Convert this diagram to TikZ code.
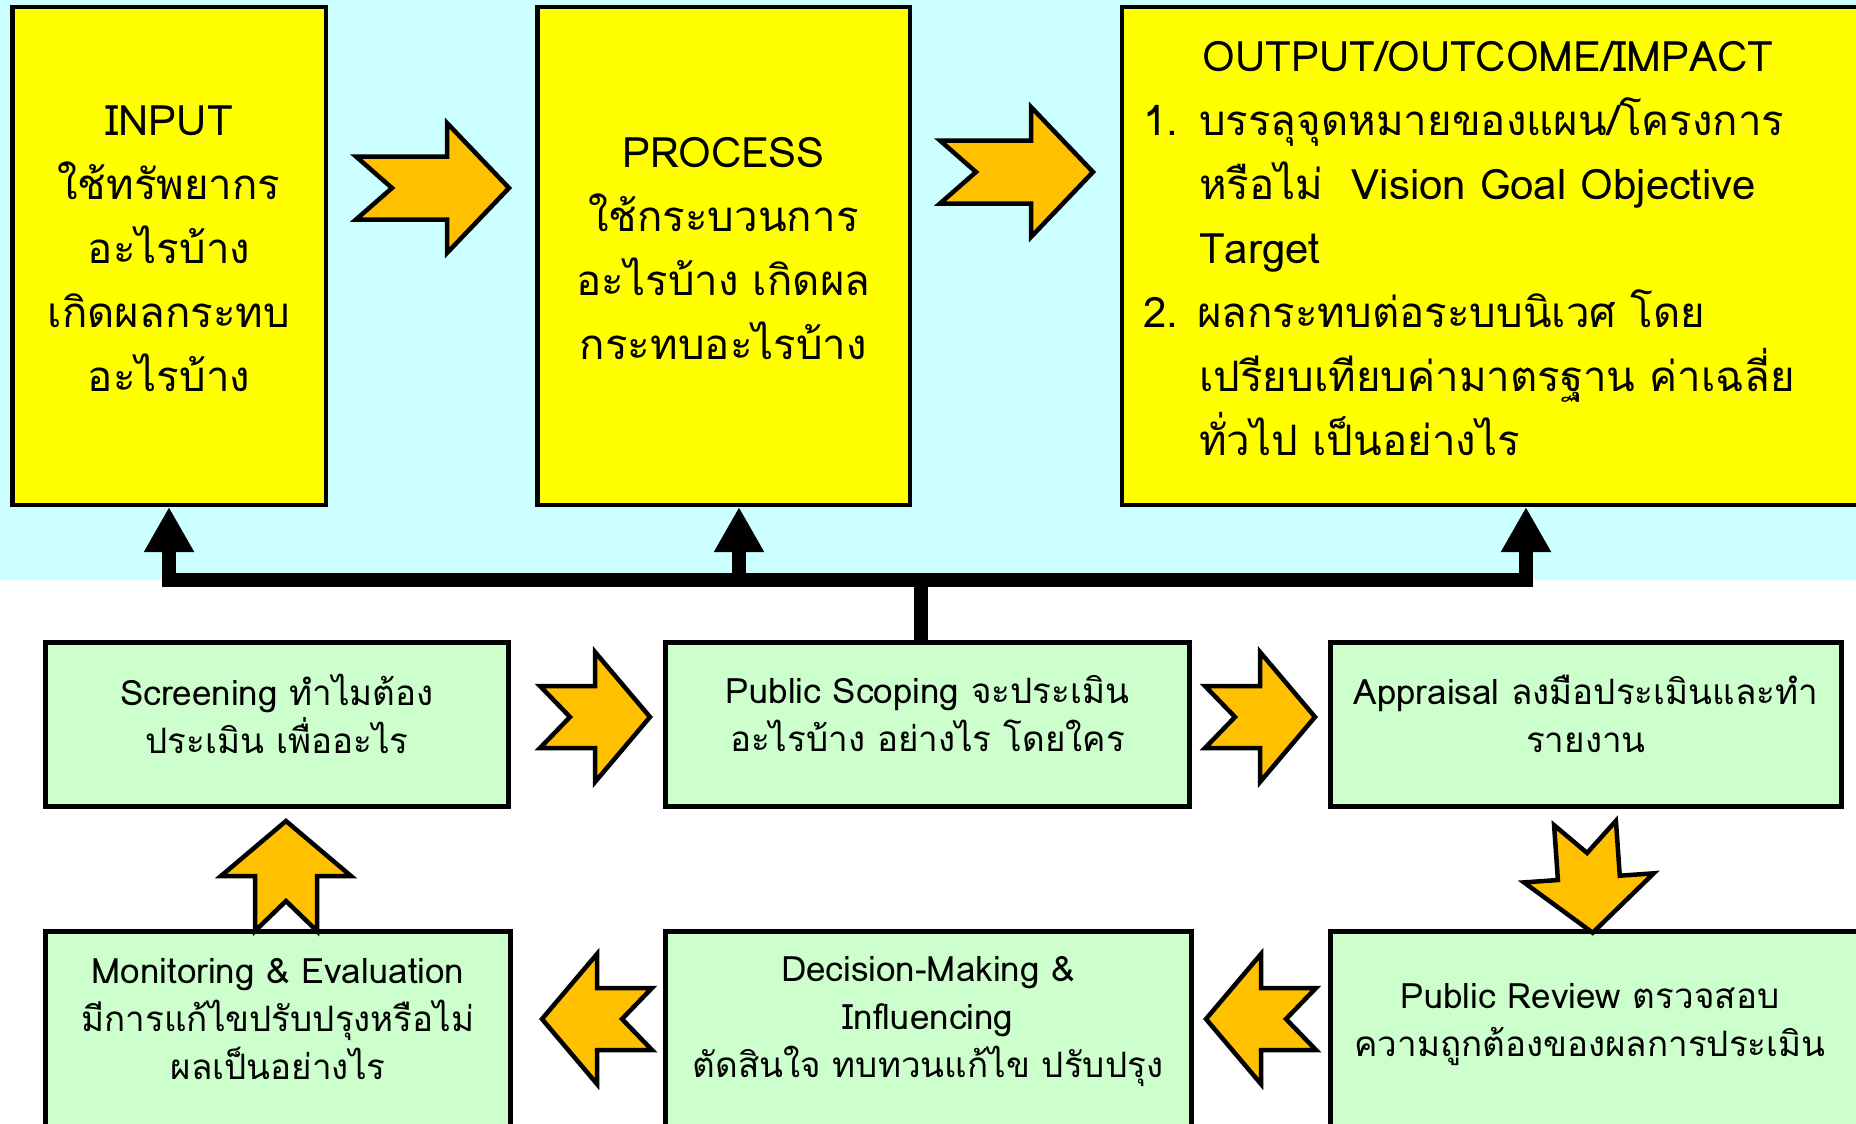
\documentclass[tikz,border=0pt]{standalone}
\usepackage{fontspec}
\setmainfont[Script=Thai]{Loma}
\usetikzlibrary{arrows.meta}
\definecolor{skybg}{HTML}{CCFFFF}
\definecolor{boxyellow}{HTML}{FFFF00}
\definecolor{boxgreen}{HTML}{CCFFCC}
\definecolor{arroworange}{HTML}{FFC000}
\tikzset{
  topbox/.style={rectangle, draw, fill=boxyellow, line width=4.5pt},
  toptext/.style={align=center, font=\fontsize{42}{64}\selectfont},
  stepbox/.style={rectangle, draw, fill=boxgreen, line width=5pt},
  steptext/.style={align=center, font=\fontsize{35}{48}\selectfont},
  bus/.style={line width=14pt, -{Triangle[width=47pt,length=45pt]}},
  blockarrow/.style={draw, fill=arroworange, line width=4.5pt, line join=miter},
  pics/bigarrow/.style={code={\draw[blockarrow] (0,-31.5) -- (91,-31.5) -- (91,-65) -- (153,0) -- (91,65) -- (91,31.5) -- (0,31.5) -- (36,0) -- cycle;}},
  pics/smallarrow/.style={code={\draw[blockarrow] (0,-31) -- (55,-31) -- (55,-65) -- (110,0) -- (55,65) -- (55,31) -- (0,31) -- (30,0) -- cycle;}},
}
\begin{document}
\begin{tikzpicture}[x=1pt,y=-1pt]
  \useasboundingbox (0,0) rectangle (1856,1124);
  \fill[white] (0,0) rectangle (1856,1124);
  \fill[skybg] (0,0) rectangle (1856,580);

  % top row
  \draw (169,256) node[topbox, minimum width=313.5pt, minimum height=497.5pt] (input) {};
  \draw (723.5,256) node[topbox, minimum width=372.5pt, minimum height=497.5pt] (process) {};
  \draw (1492,256) node[topbox, minimum width=739.75pt, minimum height=497.5pt] (output) {};
  \draw (169,249) node[toptext] (inputtext) {INPUT\\ใช้ทรัพยากร\\อะไรบ้าง\\เกิดผลกระทบ\\อะไรบ้าง};
  \draw (723.5,249) node[toptext] (processtext) {PROCESS\\ใช้กระบวนการ\\อะไรบ้าง เกิดผล\\กระทบอะไรบ้าง};
  \draw (1488,57) node[toptext] (outtitle) {OUTPUT/OUTCOME/IMPACT};
  \draw (1143,97) node[toptext, anchor=north west, align=left, inner sep=0pt] (outlist)
    {\makebox[56pt][l]{1.}บรรลุจุดหมายของแผน/โครงการ\\
     \hspace*{56pt}หรือไม่~~Vision Goal Objective\\
     \hspace*{56pt}Target\\
     2. ผลกระทบต่อระบบนิเวศ โดย\\
     \hspace*{56pt}เปรียบเทียบค่ามาตรฐาน ค่าเฉลี่ย\\
     \hspace*{56pt}ทั่วไป เป็นอย่างไร};

  \pic at (356,188) {bigarrow};
  \pic at (940,172) {bigarrow};

  % bottom cycle
  \draw (277,724.5) node[stepbox, minimum width=463pt, minimum height=164pt] (screening) {};
  \draw (927.5,724.5) node[stepbox, minimum width=524pt, minimum height=164pt] (scoping) {};
  \draw (1586,724.5) node[stepbox, minimum width=511pt, minimum height=164pt] (appraisal) {};
  \draw (278,1045.75) node[stepbox, minimum width=465pt, minimum height=228.5pt] (monitoring) {};
  \draw (928.5,1045.75) node[stepbox, minimum width=526pt, minimum height=228.5pt] (decision) {};
  \draw (1615.25,1045.75) node[stepbox, minimum width=569.5pt, minimum height=228.5pt] (review) {};
  \draw (277,714) node[steptext] (screeningtext) {Screening ทำไมต้อง\\ประเมิน เพื่ออะไร};
  \draw (927.5,714) node[steptext] (scopingtext) {Public Scoping จะประเมิน\\อะไรบ้าง อย่างไร โดยใคร};
  \draw (1586,714) node[steptext] (appraisaltext) {Appraisal ลงมือประเมินและทำ\\รายงาน};
  \draw (278,1019) node[steptext] (monitoringtext) {Monitoring \& Evaluation\\มีการแก้ไขปรับปรุงหรือไม่\\ผลเป็นอย่างไร};
  \draw (928,1021) node[steptext] (decisiontext) {Decision-Making \&\\Influencing\\ตัดสินใจ ทบทวนแก้ไข ปรับปรุง};
  \draw (1590,1025) node[steptext] (reviewtext) {Public Review ตรวจสอบ\\ความถูกต้องของผลการประเมิน};

  \pic at (540,717) {smallarrow};
  \pic at (1205,717) {smallarrow};
  \pic[rotate=-86] at (1585,823) {smallarrow};
  \pic[rotate=180] at (1316,1019) {smallarrow};
  \pic[rotate=180] at (652,1019) {smallarrow};
  \pic[rotate=90] at (286,931) {smallarrow};

  % feedback bus
  \coordinate (hub) at (921,580);
  \draw[line width=14pt] (scoping.north -| hub) -- (hub);
  \draw[bus] (hub) -| (input.south);
  \draw[bus] (hub) -| ([xshift=15.5pt]process.south);
  \draw[bus] (hub) -| ([xshift=34pt]output.south);
\end{tikzpicture}
\end{document}
